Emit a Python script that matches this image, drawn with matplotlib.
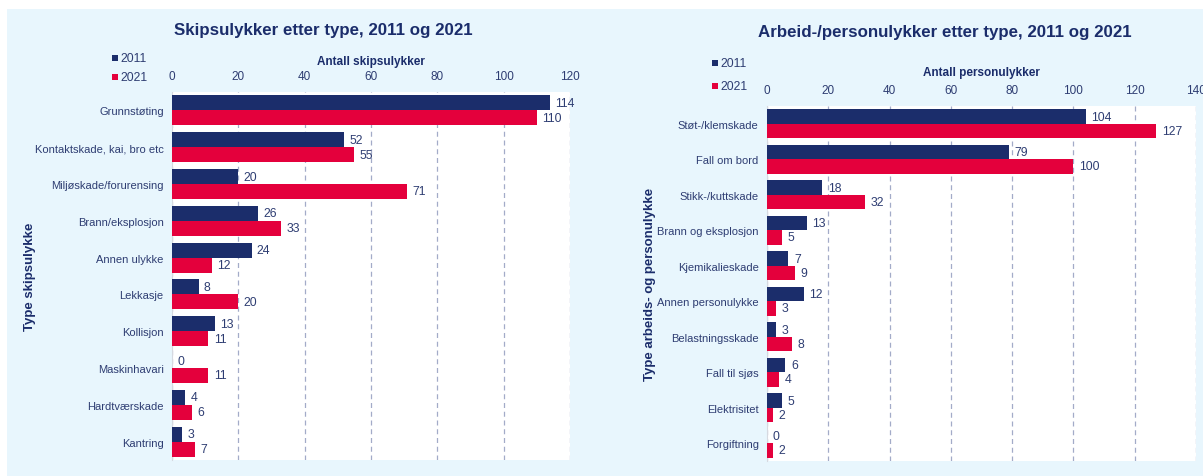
import numpy as np
import matplotlib.pyplot as plt
from matplotlib.patches import Rectangle

plt.rcParams['font.family'] = ['Liberation Sans Narrow', 'Liberation Sans', 'DejaVu Sans']

# left chart: ship accidents
ship_types = ["Grunnstøting", "Kontaktskade, kai, bro etc", "Miljøskade/forurensing",
              "Brann/eksplosjon", "Annen ulykke", "Lekkasje", "Kollisjon",
              "Maskinhavari", "Hardtværskade", "Kantring"]
ship_2011 = [114, 52, 20, 26, 24, 8, 13, 0, 4, 3]
ship_2021 = [110, 55, 71, 33, 12, 20, 11, 11, 6, 7]
ship_ticks = [0, 20, 40, 60, 80, 100, 120]

# right chart: work/personal accidents
pers_types = ["Støt-/klemskade", "Fall om bord", "Stikk-/kuttskade", "Brann og eksplosjon",
              "Kjemikalieskade", "Annen personulykke", "Belastningsskade",
              "Fall til sjøs", "Elektrisitet", "Forgiftning"]
pers_2011 = [104, 79, 18, 13, 7, 12, 3, 6, 5, 0]
pers_2021 = [127, 100, 32, 5, 9, 3, 8, 4, 2, 2]
pers_ticks = [0, 20, 40, 60, 80, 100, 120, 140]

NAVY = "#1b2d6b"
RED = "#e4003c"
TXT = "#2e3d72"
BG = "#e8f6fd"

W, H = 1203, 477
fig = plt.figure(figsize=(W / 100, H / 100), dpi=100)
fig.patches.append(Rectangle((7 / W, 0.0), 1, 1 - 10 / H,
                             transform=fig.transFigure, facecolor=BG,
                             edgecolor="none", zorder=-10))


def draw(ax, cats, v1, v2, ticks, xmax, title, xlabel, ylabel, title_xy, leg_xy, leg_gap,
         xlab_y, ylab_x):
    y = np.arange(len(cats))
    h = 0.405
    b1 = ax.barh(y - h / 2, v1, height=h, color=NAVY, zorder=3)
    b2 = ax.barh(y + h / 2, v2, height=h, color=RED, zorder=3)
    for bars in (b1, b2):
        for r in bars:
            ax.text(r.get_width() + xmax * 0.013, r.get_y() + r.get_height() / 2,
                    f"{int(r.get_width())}", va="center", ha="left",
                    fontsize=8.8, color=TXT, zorder=4)
    ax.set_yticks(y)
    ax.set_yticklabels(cats, fontsize=8, color=TXT)
    ax.set_ylim(len(cats) - 0.5, -0.5)
    ax.set_xlim(0, xmax)
    ax.set_xticks(ticks)
    ax.xaxis.tick_top()
    ax.tick_params(axis="x", length=0, labelsize=8.5, labelcolor=TXT, pad=7)
    ax.tick_params(axis="y", length=0, pad=6)
    ax.grid(axis="x", color="#a3abc8", linestyle=(0, (4, 3)), linewidth=0.9, zorder=0)
    for s in ["top", "right", "bottom"]:
        ax.spines[s].set_visible(False)
    ax.spines["left"].set_color("#d6d9e0")
    ax.set_facecolor("white")
    fig.text(title_xy[0], title_xy[1], title, ha="center", va="center",
             fontsize=12.2, fontweight="bold", color=NAVY)
    pos = ax.get_position()
    fig.text((pos.x0 + pos.x1) / 2, xlab_y, xlabel, ha="center", va="center",
             fontsize=8.5, fontweight="bold", color=NAVY)
    fig.text(ylab_x, (pos.y0 + pos.y1) / 2, ylabel, rotation=90, ha="center",
             va="center", fontsize=9.5, fontweight="bold", color=NAVY)
    lx, ly = leg_xy
    for i, (lab, col) in enumerate([("2011", NAVY), ("2021", RED)]):
        yy = ly - i * leg_gap
        fig.patches.append(Rectangle((lx, yy - 3 / H), 6 / W, 6 / H,
                                     transform=fig.transFigure, facecolor=col,
                                     edgecolor="none"))
        fig.text(lx + 8 / W, yy, lab, ha="left", va="center", fontsize=8.8, color=TXT)


ax1 = fig.add_axes([172 / W, 16 / H, 398 / W, 368 / H])
draw(ax1, ship_types, ship_2011, ship_2021, ship_ticks, 120,
     "Skipsulykker etter type, 2011 og 2021", "Antall skipsulykker",
     "Type skipsulykke", (323 / W, 1 - 30 / H), (112 / W, 1 - 59 / H), 19 / H,
     1 - 62 / H, 30 / W)

ax2 = fig.add_axes([767 / W, 15 / H, 429 / W, 355 / H])
draw(ax2, pers_types, pers_2011, pers_2021, pers_ticks, 140,
     "Arbeid-/personulykker etter type, 2011 og 2021", "Antall personulykker",
     "Type arbeids- og personulykke", (945 / W, 1 - 33 / H), (712 / W, 1 - 64 / H), 23 / H,
     1 - 73 / H, 650 / W)

fig.savefig("out.png", dpi=100)
